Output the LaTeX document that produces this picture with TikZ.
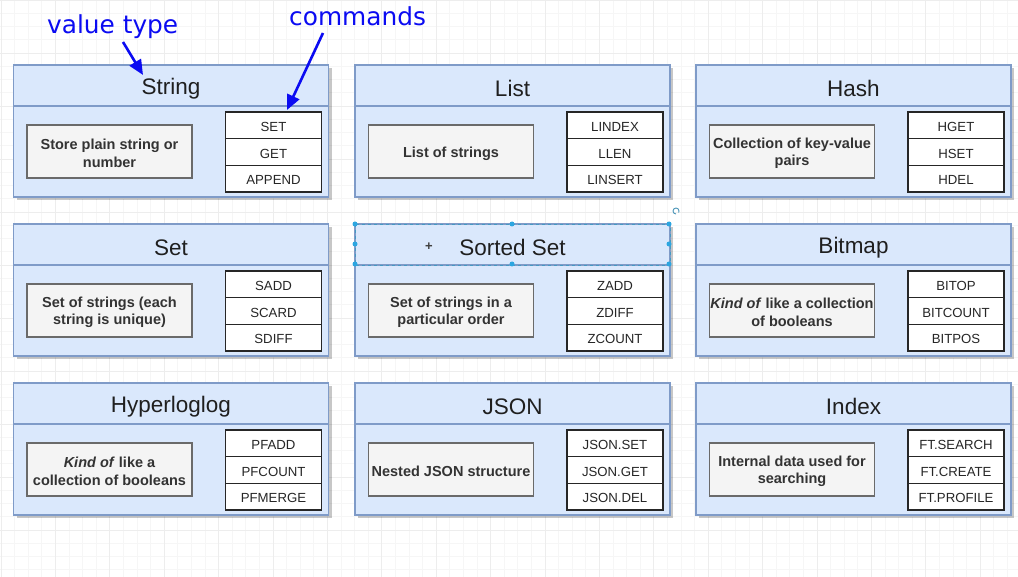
\documentclass[tikz,border=0pt]{standalone}
\usepackage{fontspec}
\setmainfont{Liberation Sans}
\newfontfamily\annfont{DejaVu Sans}
\usetikzlibrary{arrows.meta}
\definecolor{panelfill}{HTML}{DAE8FC}
\definecolor{panelline}{HTML}{7F9BC8}
\definecolor{descfill}{HTML}{F4F4F4}
\definecolor{descline}{HTML}{6A6A6A}
\definecolor{desctext}{HTML}{333333}
\definecolor{annblue}{HTML}{0B0BF2}
\definecolor{handle}{HTML}{2CA6E0}
\definecolor{gridminor}{HTML}{F6F6F6}
\definecolor{gridmajor}{HTML}{EDEDED}
\tikzset{
  panelbox/.style={draw=panelline, fill=panelfill, line width=1.3pt, minimum width=315pt, minimum height=132pt, anchor=north west, inner sep=0pt, outer sep=0pt},
  paneldiv/.style={draw=panelline, line width=1.3pt},
  panelshadow/.style={fill=black, opacity=0.22},
  titletext/.style={inner sep=0pt, text=black!88, font=\fontsize{22.5}{26}\selectfont},
  descbox/.style={draw=descline, fill=descfill, line width=1.2pt, minimum width=165pt, minimum height=53pt, inner sep=0pt},
  desctxt/.style={inner sep=0pt, align=center, text=desctext, font=\fontsize{14.5}{17.4}\selectfont\bfseries},
  cmdbox/.style={draw=black!85, fill=white, line width=1.3pt, minimum width=96pt, minimum height=26.67pt, inner sep=0pt, text height=12.5pt, text depth=0pt, text=black!85, font=\fontsize{13.2}{15}\selectfont},
  anntext/.style={inner sep=0pt, text=annblue, font=\annfont\fontsize{24.8}{28}\selectfont},
  annarrow/.style={draw=annblue, line width=2.6pt, -{Triangle[length=15pt,width=13pt]}},
  selbox/.style={draw=handle!70!gray, line width=0.8pt, dashed},
  seldot/.style={circle, fill=handle, inner sep=0pt, minimum size=5pt},
}
\newcommand\rpanel[8]{%
  \fill[panelshadow] (#2+3,#3+3) rectangle ++(315,132);
  \node[panelbox] (#1) at (#2,#3) {};
  \draw[paneldiv] ([yshift=-41pt]#1.north west) -- ([yshift=-41pt]#1.north east);
  \node[titletext] (#1t) at (#2+157.5,#3+23.3) {#4};
  \node[descbox] (#1d) at (#2+96,#3+86.5) {};
  \node[desctxt] (#1dt) at (#2+96,#3+88.3) {#5};
  \node[cmdbox] (#1a) at (#2+260,#3+60.33) {#6};
  \node[cmdbox] (#1b) at (#2+260,#3+87) {#7};
  \node[cmdbox] (#1c) at (#2+260,#3+113.67) {#8};
}
\begin{document}
\begin{tikzpicture}[x=1pt,y=-1pt]
\useasboundingbox (0,0) rectangle (1018,577);
\fill[white] (0,0) rectangle (1018,577);
% grid
\foreach \i in {0,...,74} {\draw[gridminor, line width=0.7pt] (1+13.6*\i,0) -- (1+13.6*\i,577);}
\foreach \j in {0,...,43} {\draw[gridminor, line width=0.7pt] (0,13.25*\j) -- (1018,13.25*\j);}
\foreach \i in {0,...,18} {\draw[gridmajor, line width=0.8pt] (1+54.4*\i,0) -- (1+54.4*\i,577);}
\foreach \j in {0,...,10} {\draw[gridmajor, line width=0.8pt] (0,53*\j) -- (1018,53*\j);}
% panels
\rpanel{str}{13.5}{65}{String}{Store plain string or\\number}{SET}{GET}{APPEND}
\rpanel{lst}{355}{65}{List}{List of strings}{LINDEX}{LLEN}{LINSERT}
\rpanel{hsh}{696}{65}{Hash}{Collection of key-value\\pairs}{HGET}{HSET}{HDEL}
\rpanel{set}{13.5}{224}{Set}{Set of strings (each\\string is unique)}{SADD}{SCARD}{SDIFF}
\rpanel{zst}{355}{224}{Sorted Set}{Set of strings in a\\particular order}{ZADD}{ZDIFF}{ZCOUNT}
\rpanel{bmp}{696}{224}{Bitmap}{\textit{Kind of} like a collection\\of booleans}{BITOP}{BITCOUNT}{BITPOS}
\rpanel{hll}{13.5}{383}{Hyperloglog}{\textit{Kind of} like a\\collection of booleans}{PFADD}{PFCOUNT}{PFMERGE}
\rpanel{jsn}{355}{383}{JSON}{Nested JSON structure}{JSON.SET}{JSON.GET}{JSON.DEL}
\rpanel{idx}{696}{383}{Index}{Internal data used for\\searching}{FT.SEARCH}{FT.CREATE}{FT.PROFILE}
% selection handles on Sorted Set header
\draw[selbox] (zst.north west) rectangle ([yshift=-41pt]zst.north east);
\node[seldot] (h1) at (355,224) {};
\node[seldot] (h2) at (512,224) {};
\node[seldot] (h3) at (669,224) {};
\node[seldot] (h4) at (355,244) {};
\node[seldot] (h5) at (669,244) {};
\node[seldot] (h6) at (355,264) {};
\node[seldot] (h7) at (512,264) {};
\node[seldot] (h8) at (669,264) {};
\node[inner sep=0pt, text=black!75, font=\fontsize{13}{14}\selectfont\bfseries] (plus) at (429,247) {+};
\draw[handle!60!gray, line width=0.9pt] (676,214) arc[start angle=90, end angle=390, radius=3];
% annotations
\node[anntext, anchor=base west] (vt) at (47,34) {value type};
\node[anntext, anchor=base west] (cm) at (289,26) {commands};
\coordinate (vtA) at (123,42);
\coordinate (vtB) at (143,75);
\coordinate (cmA) at (323,33);
\coordinate (cmB) at (287,110);
\draw[annarrow] (vtA) -- (vtB);
\draw[annarrow] (cmA) -- (cmB);
\end{tikzpicture}
\end{document}
